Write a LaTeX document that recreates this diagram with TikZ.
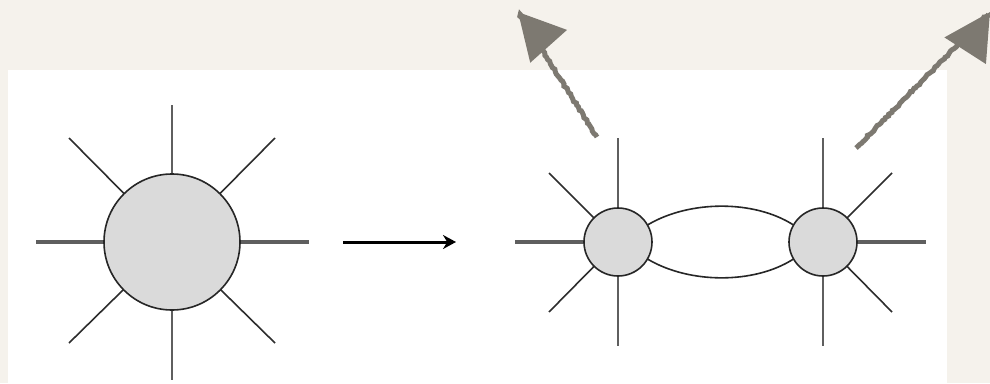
\documentclass[tikz,border=0pt]{standalone}
\usetikzlibrary{arrows.meta,decorations.pathmorphing}
\definecolor{paper}{RGB}{245,242,236}
\definecolor{blobfill}{RGB}{218,218,218}
\definecolor{legcol}{RGB}{95,95,95}
\definecolor{diagcol}{RGB}{45,45,45}
\definecolor{pencil}{RGB}{125,121,113}
\tikzset{
  blob/.style={circle,draw=black!85,line width=1.6pt,fill=blobfill,inner sep=0pt},
  hleg/.style={draw=legcol,line width=3.2pt},
  vleg/.style={draw=legcol,line width=2.2pt},
  dleg/.style={draw=diagcol,line width=1.6pt},
  lens/.style={draw=black!85,line width=1.6pt},
  pencilarrow/.style={draw=pencil,line width=5pt,
    decorate,decoration={random steps,segment length=2.5pt,amplitude=0.9pt},
    -{Triangle[length=46pt,width=48pt]}},
  mainarrow/.style={draw=black,line width=3pt,-{Stealth[length=13pt,width=14pt]}}
}
\begin{document}
\begin{tikzpicture}[x=1pt,y=-1pt]
\useasboundingbox (0,0) rectangle (990,383);
\fill[paper] (0,0) rectangle (990,383);
\fill[white] (8,70) rectangle (947,383);
% left big vertex
\coordinate (bc) at (172,242);
\coordinate (bN) at (172,105);
\coordinate (bS) at (172,380);
\coordinate (bW) at (36,242);
\coordinate (bE) at (309,242);
\coordinate (bNW) at (69,138);
\coordinate (bNE) at (275,138);
\coordinate (bSW) at (69,343);
\coordinate (bSE) at (275,343);
\draw[vleg] (bc) -- (bN);
\draw[vleg] (bc) -- (bS);
\draw[hleg] (bc) -- (bW);
\draw[hleg] (bc) -- (bE);
\draw[dleg] (bc) -- (bNW);
\draw[dleg] (bc) -- (bNE);
\draw[dleg] (bc) -- (bSW);
\draw[dleg] (bc) -- (bSE);
\node[blob,minimum size=136pt] (big) at (bc) {};
% arrow
\coordinate (aL) at (343,242);
\coordinate (aR) at (456,242);
\draw[mainarrow] (aL) -- (aR);
% right pair of vertices
\coordinate (lc) at (618,242);
\coordinate (rc) at (823,242);
\coordinate (lN) at (618,138);
\coordinate (lS) at (618,346);
\coordinate (lW) at (515,242);
\coordinate (lNW) at (549,173);
\coordinate (lSW) at (549,312);
\coordinate (rN) at (823,138);
\coordinate (rS) at (823,346);
\coordinate (rE) at (926,242);
\coordinate (rNE) at (892,173);
\coordinate (rSE) at (892,312);
\draw[vleg] (lc) -- (lN);
\draw[vleg] (lc) -- (lS);
\draw[hleg] (lc) -- (lW);
\draw[dleg] (lc) -- (lNW);
\draw[dleg] (lc) -- (lSW);
\draw[vleg] (rc) -- (rN);
\draw[vleg] (rc) -- (rS);
\draw[hleg] (rc) -- (rE);
\draw[dleg] (rc) -- (rNE);
\draw[dleg] (rc) -- (rSE);
\node[blob,minimum size=68pt] (left) at (lc) {};
\node[blob,minimum size=68pt] (right) at (rc) {};
\draw[lens] (left.30) .. controls (690,200) and (754,200) .. (right.150);
\draw[lens] (left.-30) .. controls (690,284) and (754,284) .. (right.-150);
% pencil arrows
\coordinate (p1a) at (597,137);
\coordinate (p1b) at (518,12);
\coordinate (p2a) at (856,148);
\coordinate (p2b) at (990,12);
\draw[pencilarrow] (p1a) -- (p1b);
\draw[pencilarrow] (p2a) -- (p2b);
\end{tikzpicture}
\end{document}
